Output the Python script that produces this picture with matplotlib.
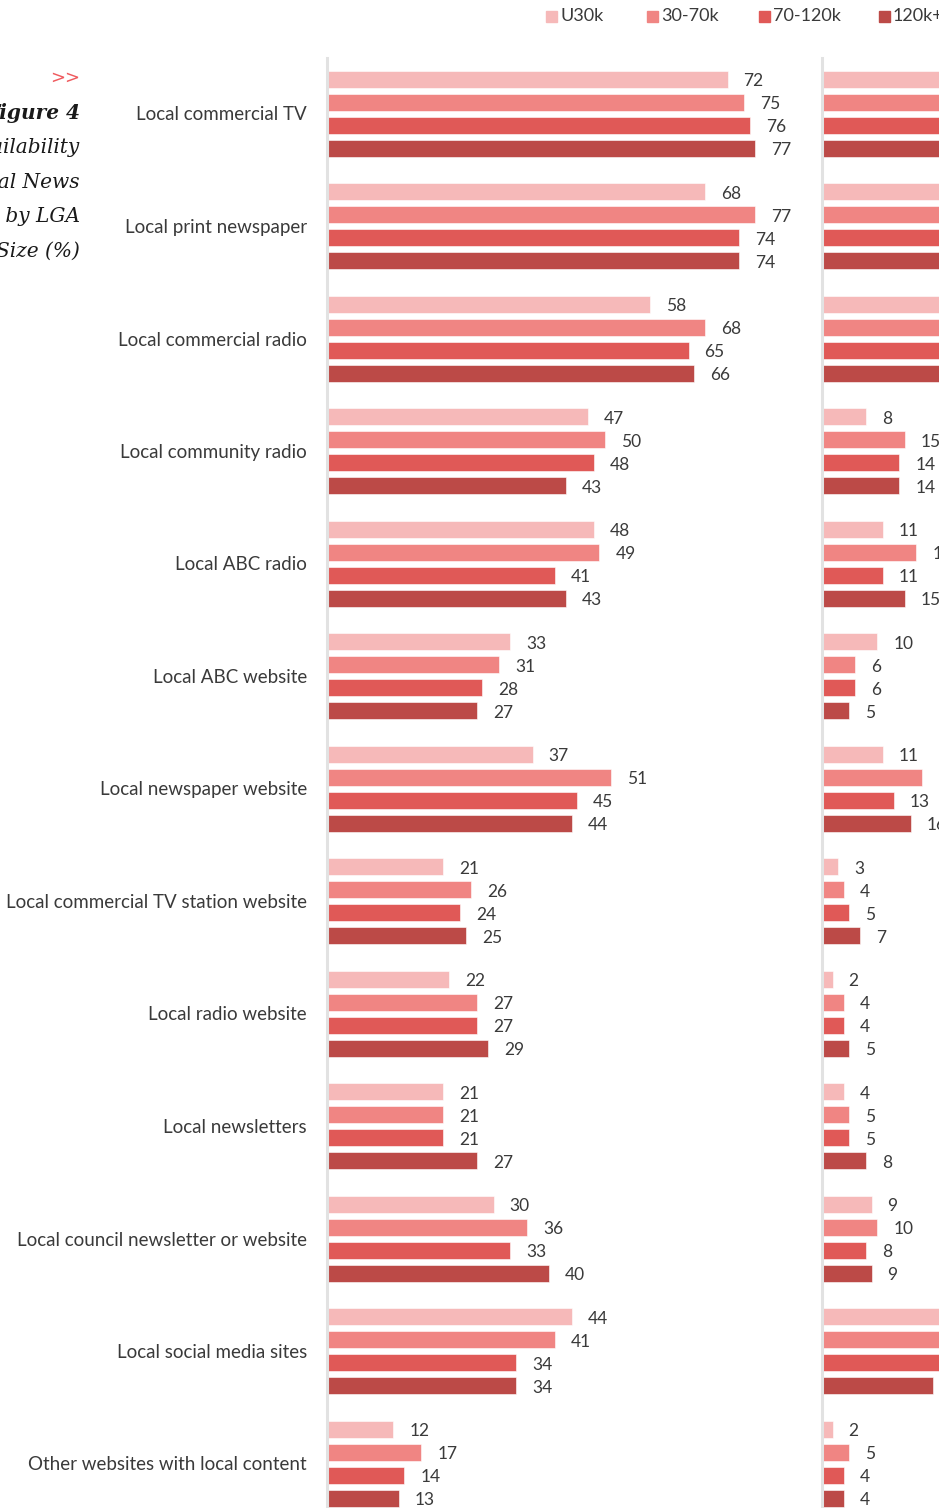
import numpy as np
import matplotlib.pyplot as plt
from matplotlib.patches import Rectangle

categories = ["Local commercial TV", "Local print newspaper", "Local commercial radio",
              "Local community radio", "Local ABC radio", "Local ABC website",
              "Local newspaper website", "Local commercial TV station website",
              "Local radio website", "Local newsletters",
              "Local council newsletter or website", "Local social media sites",
              "Other websites with local content"]
series = ["U30k", "30-70k", "70-120k", "120k+"]
colors = ["#F6B9B9", "#F08583", "#E05957", "#BC4A47"]

# left panel (%)
left_u30 = [72, 68, 58, 47, 48, 33, 37, 21, 22, 21, 30, 44, 12]
left_30_70 = [75, 77, 68, 50, 49, 31, 51, 26, 27, 21, 36, 41, 17]
left_70_120 = [76, 74, 65, 48, 41, 28, 45, 24, 27, 21, 33, 34, 14]
left_120 = [77, 74, 66, 43, 43, 27, 44, 25, 29, 27, 40, 34, 13]

# right panel (%), partly cut off in the reference, large values estimated
right_u30 = [40, 35, 38, 8, 11, 10, 11, 3, 2, 4, 9, 24, 2]
right_30_70 = [38, 30, 36, 15, 17, 6, 18, 4, 4, 5, 10, 23, 5]
right_70_120 = [36, 29, 33, 14, 11, 6, 13, 5, 4, 5, 8, 22, 4]
right_120 = [35, 27, 31, 14, 15, 5, 16, 7, 5, 8, 9, 20, 4]

title_lines = ["Figure 4", "Availability", "of Local News", "Sources by LGA", "Size (%)"]

W, H = 939, 1508
fig = plt.figure(figsize=(W / 100, H / 100), dpi=100)

label_font = "Lato"
txt_color = "#3a3a3a"

px_per_unit = 5.57
off = np.array([-1.5, -0.5, 0.5, 1.5]) * 23 / 112.5
bar_h = 17 / 112.5
y = np.arange(len(categories))
ylim = ((1508 - 113.5) / 112.5, (58 - 113.5) / 112.5)


def panel(x0, width_px, data, show_labels):
    ax = fig.add_axes([x0 / W, 0, width_px / W, (1508 - 58) / H])
    for k, vals in enumerate(data):
        ax.barh(y + off[k], vals, height=bar_h, color=colors[k], edgecolor="white",
                linewidth=0.4)
        for yi, v in zip(y + off[k], vals):
            ax.annotate(str(v), (v, yi), xytext=(11.5, -1.5), textcoords="offset points",
                        va="center", ha="left", fontsize=12.5, color=txt_color,
                        family=label_font)
    ax.set_xlim(0, width_px / px_per_unit)
    ax.set_ylim(*ylim)
    for s in ["top", "right", "bottom"]:
        ax.spines[s].set_visible(False)
    ax.spines["left"].set_color("#E2E2E2")
    ax.spines["left"].set_linewidth(2.2)
    ax.set_xticks([])
    ax.set_yticks(y)
    if show_labels:
        ax.set_yticklabels(categories, fontsize=13.5, color=txt_color, family=label_font)
    else:
        ax.set_yticklabels([])
    ax.tick_params(axis="y", length=0, pad=14)
    return ax


panel(326.5, 470, [left_u30, left_30_70, left_70_120, left_120], True)
panel(821.5, 470, [right_u30, right_30_70, right_70_120, right_120], False)

# legend
leg_x = [546, 647, 759, 879]
for xp, lab, c in zip(leg_x, series, colors):
    fig.add_artist(Rectangle((xp / W, 1 - 22 / H), 11 / W, 11 / H, color=c,
                             transform=fig.transFigure))
    fig.text((xp + 14) / W, 1 - 16 / H, lab, fontsize=13, color=txt_color,
             family=label_font, va="center", ha="left")

# title block on the left (cut off)
fig.text(80 / W, 1 - 78 / H, ">>", fontsize=13, color="#EF5A5E", ha="right", va="center",
         family="DejaVu Sans")
for i, line in enumerate(title_lines):
    fig.text(80 / W, 1 - (113 + 34.5 * i) / H, line, fontsize=14.5, color="#1a1a1a",
             ha="right", va="center", family="DejaVu Serif", style="italic",
             weight="bold" if i == 0 else "normal")

fig.savefig("out.png", dpi=100)
